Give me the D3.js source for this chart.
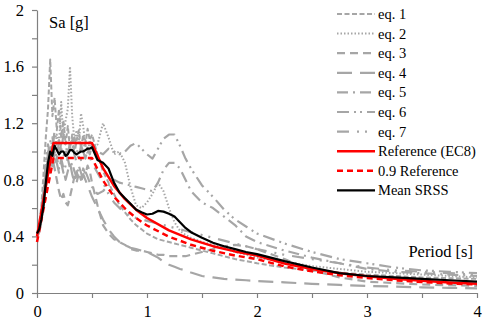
<!DOCTYPE html>
<html lang="en">
<head>
<meta charset="UTF-8">
<title>Response spectra</title>
<style>
    body { margin: 0; background: #fff; }
    svg { display: block; font-family: 'Liberation Serif', 'Times New Roman', serif; }
    .axis text { font-size: 16.5px; fill: #000; font-family: 'Liberation Serif', 'Times New Roman', serif; }
    .axis path, .axis line { stroke: #808080; stroke-width: 1.2; }
    .lbl { font-size: 16.5px; fill: #000; }
    .leg { font-size: 14.5px; fill: #000; }
</style>
</head>
<body>
<div id="chart"></div>
<script src="https://d3js.org/d3.v7.min.js"></script>
<script>
// periods [s] shared by all spectra
const periods = [0, 0.02, 0.04, 0.06, 0.08, 0.10, 0.12, 0.14, 0.16, 0.18, 0.20, 0.22, 0.24, 0.26, 0.28, 0.30,
    0.32, 0.34, 0.36, 0.38, 0.40, 0.42, 0.44, 0.46, 0.48, 0.50, 0.55, 0.60, 0.65, 0.70, 0.75, 0.80, 0.85, 0.90,
    0.95, 1.00, 1.05, 1.10, 1.15, 1.20, 1.25, 1.30, 1.35, 1.40, 1.50, 1.60, 1.70, 1.80, 1.90, 2.00, 2.25, 2.50,
    2.75, 3.00, 3.25, 3.50, 3.75, 4.00];

const eq1 = [0.40, 0.48, 0.62, 0.85, 1.10, 1.30, 1.65, 1.25, 1.38, 1.15, 1.30, 1.10, 1.22, 1.05, 1.18, 1.02,
    1.12, 0.98, 1.08, 1.15, 1.02, 1.12, 1.05, 1.16, 1.08, 1.12, 0.98, 0.86, 0.78, 0.70, 0.62, 0.57, 0.52, 0.48,
    0.45, 0.42, 0.40, 0.38, 0.37, 0.36, 0.35, 0.34, 0.33, 0.32, 0.30, 0.28, 0.26, 0.24, 0.225, 0.21, 0.18, 0.16,
    0.145, 0.13, 0.12, 0.11, 0.105, 0.10];
const eq2 = [0.41, 0.46, 0.55, 0.72, 0.90, 1.00, 0.92, 1.05, 0.98, 1.12, 1.05, 1.35, 1.10, 1.22, 1.30, 1.60,
    1.25, 1.08, 1.15, 1.05, 1.27, 1.18, 1.05, 0.98, 1.08, 1.02, 1.05, 1.20, 1.10, 0.98, 1.00, 0.92, 0.75, 0.62,
    0.60, 0.64, 0.70, 0.78, 0.72, 0.60, 0.50, 0.44, 0.41, 0.39, 0.36, 0.34, 0.32, 0.29, 0.27, 0.25, 0.22, 0.19,
    0.17, 0.15, 0.14, 0.13, 0.12, 0.11];
const eq3 = [0.40, 0.44, 0.52, 0.65, 0.80, 0.92, 0.85, 0.95, 0.88, 0.80, 0.72, 0.66, 0.70, 0.64, 0.62, 0.68,
    0.75, 0.82, 0.78, 0.85, 0.80, 0.88, 0.84, 0.90, 0.86, 0.78, 0.62, 0.48, 0.42, 0.38, 0.36, 0.34, 0.31, 0.30,
    0.30, 0.29, 0.28, 0.27, 0.27, 0.26, 0.26, 0.26, 0.26, 0.27, 0.29, 0.31, 0.33, 0.34, 0.33, 0.31, 0.24, 0.16,
    0.11, 0.08, 0.07, 0.06, 0.055, 0.05];
const eq4 = [0.39, 0.43, 0.50, 0.62, 0.75, 0.85, 0.95, 0.88, 1.00, 0.92, 0.85, 0.95, 0.88, 0.80, 0.86, 0.92,
    0.84, 0.78, 0.86, 0.80, 0.78, 0.84, 0.80, 0.76, 0.72, 0.68, 0.60, 0.52, 0.45, 0.40, 0.36, 0.34, 0.32, 0.31,
    0.30, 0.29, 0.27, 0.25, 0.22, 0.20, 0.185, 0.17, 0.16, 0.145, 0.12, 0.11, 0.10, 0.095, 0.09, 0.085, 0.075, 0.065,
    0.057, 0.05, 0.045, 0.04, 0.036, 0.033];
const eq5 = [0.42, 0.47, 0.58, 0.70, 0.86, 0.95, 1.05, 0.98, 0.90, 0.96, 0.88, 0.92, 0.85, 0.90, 0.95, 0.88,
    0.92, 0.86, 0.82, 0.90, 0.85, 0.80, 0.86, 0.82, 0.78, 0.75, 0.70, 0.72, 0.76, 0.80, 0.78, 0.77, 0.76, 0.75,
    0.74, 0.73, 0.72, 0.78, 0.87, 0.92, 0.92, 0.88, 0.80, 0.72, 0.64, 0.60, 0.54, 0.48, 0.40, 0.36, 0.30, 0.25,
    0.21, 0.17, 0.15, 0.14, 0.13, 0.12];
const eq6 = [0.40, 0.45, 0.56, 0.74, 0.92, 1.05, 0.98, 1.10, 1.02, 0.95, 1.08, 1.00, 1.12, 1.04, 0.98, 1.06,
    1.00, 1.10, 1.02, 0.96, 1.04, 1.00, 1.08, 1.02, 0.98, 1.05, 1.00, 0.98, 1.02, 1.00, 0.98, 1.00, 1.04, 1.06,
    1.02, 0.98, 0.95, 1.02, 1.09, 1.12, 1.12, 1.04, 0.95, 0.88, 0.76, 0.68, 0.59, 0.52, 0.47, 0.42, 0.35, 0.29,
    0.24, 0.21, 0.18, 0.16, 0.15, 0.14];
const eq7 = [0.41, 0.46, 0.57, 0.72, 0.88, 0.98, 1.08, 1.00, 1.15, 1.05, 0.98, 1.06, 0.96, 1.02, 0.94, 1.00,
    1.08, 0.98, 0.92, 0.98, 0.94, 1.00, 0.95, 1.02, 0.96, 0.92, 0.85, 0.78, 0.70, 0.64, 0.60, 0.57, 0.55, 0.53,
    0.52, 0.51, 0.50, 0.49, 0.48, 0.47, 0.46, 0.45, 0.44, 0.43, 0.41, 0.39, 0.37, 0.35, 0.33, 0.31, 0.27, 0.24,
    0.21, 0.18, 0.16, 0.15, 0.14, 0.13];
const meanSrss = [0.42, 0.45, 0.52, 0.62, 0.78, 0.92, 1.00, 0.97, 1.04, 1.01, 0.98, 1.00, 1.00, 0.97, 0.98, 1.01,
    1.01, 0.99, 0.98, 0.99, 1.00, 1.00, 1.01, 1.02, 1.02, 1.03, 0.94, 0.92, 0.88, 0.78, 0.71, 0.67, 0.63, 0.59,
    0.57, 0.555, 0.56, 0.58, 0.575, 0.56, 0.54, 0.50, 0.46, 0.43, 0.39, 0.355, 0.33, 0.31, 0.29, 0.275, 0.225, 0.18,
    0.14, 0.12, 0.11, 0.10, 0.09, 0.08];

// EC8 reference spectrum, read at its corner points and along the decay
const refPeriods = [0, 0.15, 0.5, 0.6, 0.7, 0.8, 0.9, 1.0, 1.2, 1.4, 1.6, 1.8, 2.0, 2.25, 2.5, 2.75, 3.0, 3.25, 3.5, 3.75, 4.0];
const refSa = [0.40, 1.06, 1.06, 0.883, 0.757, 0.663, 0.589, 0.53, 0.442, 0.379, 0.331, 0.294, 0.265, 0.209, 0.170,
    0.140, 0.118, 0.100, 0.087, 0.075, 0.066];
const ref09Sa = [0.36, 0.954, 0.954, 0.795, 0.681, 0.597, 0.530, 0.477, 0.398, 0.341, 0.298, 0.265, 0.239, 0.188,
    0.153, 0.126, 0.106, 0.090, 0.078, 0.068, 0.060];

const xTicks = [0, 0.5, 1, 1.5, 2, 2.5, 3, 3.5, 4];
const yTicks = [0, 0.2, 0.4, 0.6, 0.8, 1.0, 1.2, 1.4, 1.6, 1.8, 2.0];

const series = [
    { name: "eq. 1", x: periods, y: eq1, color: "#a6a6a6", width: 2, dash: "5,2.5" },
    { name: "eq. 2", x: periods, y: eq2, color: "#a6a6a6", width: 2, dash: "1.5,2" },
    { name: "eq. 3", x: periods, y: eq3, color: "#a6a6a6", width: 2.2, dash: "8,5" },
    { name: "eq. 4", x: periods, y: eq4, color: "#a6a6a6", width: 2.2, dash: "15,8" },
    { name: "eq. 5", x: periods, y: eq5, color: "#a6a6a6", width: 2.2, dash: "11,5,2,5" },
    { name: "eq. 6", x: periods, y: eq6, color: "#a6a6a6", width: 2.2, dash: "12,5,2,4,2,5" },
    { name: "eq. 7", x: periods, y: eq7, color: "#a6a6a6", width: 2.2, dash: "12,8,2,6,2,8" },
    { name: "Reference (EC8)", x: refPeriods, y: refSa, color: "#ff0000", width: 2.5, dash: null },
    { name: "0.9 Reference", x: refPeriods, y: ref09Sa, color: "#ff0000", width: 2.5, dash: "6,4" },
    { name: "Mean SRSS", x: periods, y: meanSrss, color: "#000000", width: 2.2, dash: null }
];

const W = 484, H = 321;
const margin = { top: 10, right: 7, bottom: 28, left: 37 };

const svg = d3.select("#chart").append("svg")
    .attr("width", W)
    .attr("height", H);

const x = d3.scaleLinear().domain([0, 4]).range([margin.left, W - margin.right]);
const y = d3.scaleLinear().domain([0, 2]).range([H - margin.bottom, margin.top]);

svg.append("g")
    .attr("class", "axis")
    .attr("transform", `translate(0,${H - margin.bottom})`)
    .call(d3.axisBottom(x).tickValues(xTicks).tickSize(5).tickSizeOuter(0).tickPadding(7)
        .tickFormat(d => Number.isInteger(d) ? d : ""));

svg.append("g")
    .attr("class", "axis")
    .attr("transform", `translate(${margin.left},0)`)
    .call(d3.axisLeft(y).tickValues(yTicks).tickSize(5).tickSizeOuter(0).tickPadding(8)
        .tickFormat(d => (Math.round(d * 10) % 4 === 0) ? d3.format("")(+d.toFixed(1)) : ""));

const line = d3.line().x(d => x(d[0])).y(d => y(d[1]));

svg.append("g").selectAll("path")
    .data(series)
    .enter().append("path")
    .attr("d", s => line(s.x.map((t, i) => [t, s.y[i]])))
    .attr("fill", "none")
    .attr("stroke", s => s.color)
    .attr("stroke-width", s => s.width)
    .attr("stroke-dasharray", s => s.dash)
    .attr("stroke-linejoin", "round");

svg.append("text").attr("class", "lbl").attr("x", 49).attr("y", 28).text("Sa [g]");
svg.append("text").attr("class", "lbl").attr("x", 473).attr("y", 257)
    .attr("text-anchor", "end").text("Period [s]");

// legend
const legend = svg.append("g").selectAll("g")
    .data(series)
    .enter().append("g")
    .attr("transform", (d, i) => `translate(337,${14 + i * 19.6})`);

legend.append("line")
    .attr("x1", 0).attr("x2", 38)
    .attr("stroke", d => d.color)
    .attr("stroke-width", d => d.width)
    .attr("stroke-dasharray", d => d.dash);

legend.append("text")
    .attr("class", "leg")
    .attr("x", 41)
    .attr("dy", "0.35em")
    .text(d => d.name);
</script>
</body>
</html>
